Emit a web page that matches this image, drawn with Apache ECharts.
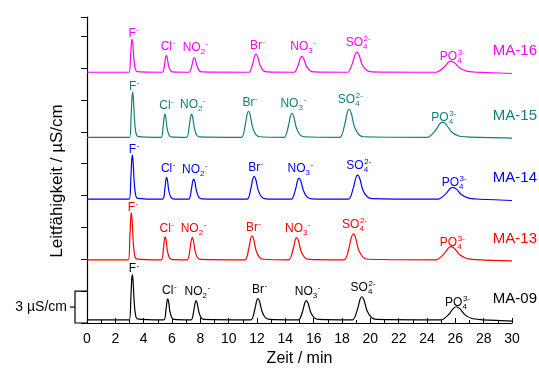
<!DOCTYPE html>
<html><head><meta charset="utf-8">
<script src="https://cdn.jsdelivr.net/npm/echarts@6/dist/echarts.min.js"></script>
<style>html,body{margin:0;padding:0;background:#fff}#c{width:539px;height:374px}</style>
</head><body><div id="c"></div>
<script>
// ---- data ----
const sampleNames = ['MA-09', 'MA-13', 'MA-14', 'MA-15', 'MA-16'];
const sampleColors = ['#000000', '#FF0000', '#0000FF', '#10807A', '#FF00FF'];
const baselines = [0.3, 5.95, 11.65, 17.48, 23.6]; // vertical offsets of traces (µS/cm)
const ions = ['F', 'Cl', 'NO2', 'Br', 'NO3', 'SO4', 'PO4'];
const xTicks = [0, 2, 4, 6, 8, 10, 12, 14, 16, 18, 20, 22, 24, 26, 28, 30];

// [time (min), signal above trace baseline (µS/cm)]
const ma09 = [[0,0],
 [2.98,0],[3.09,1.91],[3.155,3.74],[3.2,4.25],[3.255,3.61],[3.33,1.7],[3.43,0.43],[3.56,0.09],
 [5.42,0],[5.57,0.89],[5.645,1.74],[5.7,1.98],[5.765,1.68],[5.85,0.79],[5.99,0.2],[6.14,0.04],
 [7.35,0],[7.53,0.81],[7.63,1.58],[7.7,1.8],[7.785,1.53],[7.9,0.72],[8.06,0.18],[8.26,0.04],
 [11.57,0],[11.83,0.9],[11.97,1.76],[12.07,2.0],[12.19,1.7],[12.35,0.8],[12.59,0.2],[12.87,0.04],
 [14.93,0],[15.22,0.81],[15.37,1.58],[15.48,1.8],[15.61,1.53],[15.79,0.72],[16.05,0.18],[16.36,0.04],
 [18.75,0],[19.09,0.98],[19.27,1.91],[19.4,2.17],[19.56,1.84],[19.76,0.87],[20.08,0.22],[20.44,0.04],
 [25.02,0],[25.57,0.55],[25.86,1.08],[26.07,1.23],[26.32,1.05],[26.66,0.49],[27.17,0.12],[27.77,0.02],
 [30,-0.12]];
const ma13 = [[0,0],
 [2.91,0],[3.02,1.99],[3.085,3.9],[3.13,4.43],[3.185,3.77],[3.26,1.77],[3.36,0.44],[3.49,0.09],
 [5.24,0],[5.39,0.98],[5.465,1.91],[5.52,2.17],[5.585,1.84],[5.67,0.87],[5.81,0.22],[5.96,0.04],
 [7.08,0],[7.26,0.94],[7.36,1.83],[7.43,2.08],[7.515,1.77],[7.63,0.83],[7.79,0.21],[7.99,0.04],
 [11.15,0],[11.41,1.02],[11.55,1.99],[11.65,2.26],[11.77,1.92],[11.93,0.9],[12.17,0.23],[12.45,0.05],
 [14.25,0],[14.54,0.94],[14.69,1.83],[14.8,2.08],[14.93,1.77],[15.11,0.83],[15.37,0.21],[15.68,0.04],
 [18.15,0],[18.49,1.1],[18.67,2.16],[18.8,2.45],[18.96,2.08],[19.16,0.98],[19.48,0.25],[19.84,0.05],
 [24.65,0],[25.2,0.55],[25.49,1.08],[25.7,1.23],[25.95,1.05],[26.29,0.49],[26.8,0.12],[27.4,0.02],
 [30,-0.1]];
const ma14 = [[0,0],
 [2.98,0],[3.09,1.87],[3.155,3.65],[3.2,4.15],[3.255,3.53],[3.33,1.66],[3.43,0.42],[3.56,0.08],
 [5.34,0],[5.49,0.92],[5.565,1.8],[5.62,2.05],[5.685,1.74],[5.77,0.82],[5.91,0.21],[6.06,0.04],
 [7.18,0],[7.36,0.86],[7.46,1.67],[7.53,1.9],[7.615,1.62],[7.73,0.76],[7.89,0.19],[8.09,0.04],
 [11.3,0],[11.56,0.97],[11.7,1.89],[11.8,2.15],[11.92,1.83],[12.08,0.86],[12.32,0.22],[12.6,0.04],
 [14.42,0],[14.71,0.89],[14.86,1.74],[14.97,1.98],[15.1,1.68],[15.28,0.79],[15.54,0.2],[15.85,0.04],
 [18.45,0],[18.79,1.02],[18.97,1.99],[19.1,2.26],[19.26,1.92],[19.46,0.9],[19.78,0.23],[20.14,0.05],
 [24.78,0],[25.33,0.5],[25.62,0.99],[25.83,1.12],[26.08,0.95],[26.42,0.45],[26.93,0.11],[27.53,0.02],
 [30,-0.12]];
const ma15 = [[0,0],
 [3.0,0],[3.11,1.91],[3.175,3.74],[3.22,4.25],[3.275,3.61],[3.35,1.7],[3.45,0.43],[3.58,0.09],
 [5.22,0],[5.37,0.98],[5.445,1.91],[5.5,2.17],[5.565,1.84],[5.65,0.87],[5.79,0.22],[5.94,0.04],
 [7.03,0],[7.21,0.98],[7.31,1.91],[7.38,2.17],[7.465,1.84],[7.58,0.87],[7.74,0.22],[7.94,0.04],
 [10.9,0],[11.16,1.1],[11.3,2.16],[11.4,2.45],[11.52,2.08],[11.68,0.98],[11.92,0.25],[12.2,0.05],
 [13.92,0],[14.21,1.02],[14.36,1.99],[14.47,2.26],[14.6,1.92],[14.78,0.9],[15.04,0.23],[15.35,0.05],
 [17.85,0],[18.19,1.19],[18.37,2.32],[18.5,2.64],[18.66,2.24],[18.86,1.06],[19.18,0.26],[19.54,0.05],
 [24.05,0],[24.6,0.64],[24.89,1.25],[25.1,1.42],[25.35,1.21],[25.69,0.57],[26.2,0.14],[26.8,0.03],
 [30,-0.08]];
const ma16 = [[0,0],
 [2.96,0],[3.07,1.4],[3.135,2.73],[3.18,3.1],[3.235,2.64],[3.31,1.24],[3.41,0.31],[3.54,0.06],
 [5.32,0],[5.47,0.72],[5.545,1.41],[5.6,1.6],[5.665,1.36],[5.75,0.64],[5.89,0.16],[6.04,0.03],
 [7.22,0],[7.4,0.63],[7.5,1.22],[7.57,1.39],[7.655,1.18],[7.77,0.56],[7.93,0.14],[8.13,0.03],
 [11.43,0],[11.69,0.77],[11.83,1.5],[11.93,1.7],[12.05,1.45],[12.21,0.68],[12.45,0.17],[12.73,0.03],
 [14.62,0],[14.91,0.68],[15.06,1.32],[15.17,1.5],[15.3,1.28],[15.48,0.6],[15.74,0.15],[16.05,0.03],
 [18.4,0],[18.74,0.85],[18.92,1.66],[19.05,1.89],[19.21,1.61],[19.41,0.76],[19.73,0.19],[20.09,0.04],
 [24.65,0],[25.2,0.47],[25.49,0.92],[25.7,1.04],[25.95,0.88],[26.29,0.42],[26.8,0.1],[27.4,0.02],
 [30,-0.12]];
const traces = [ma09, ma13, ma14, ma15, ma16];
const scaleBarValue = 3; // µS/cm

// ---- chart ----
const FONT = '"Liberation Sans", Arial, sans-serif';
const chart = echarts.init(document.getElementById('c'), null, {renderer: 'canvas'});
const series = traces.map((tr, i) => ({
  type: 'line', name: sampleNames[i], showSymbol: false, symbol: 'none',
  smooth: 0.25, animation: false,
  lineStyle: {color: sampleColors[i], width: 1.2},
  data: tr.map(p => [p[0], p[1] + baselines[i]])
}));

chart.setOption({
  animation: false,
  grid: {left: 87, right: 27, top: 17, bottom: 51},
  xAxis: {
    type: 'value', min: 0, max: 30, interval: 2,
    name: 'Zeit / min', nameLocation: 'middle', nameGap: 25,
    nameTextStyle: {fontFamily: FONT, fontSize: 16, color: '#000'},
    axisLine: {show: true, lineStyle: {color: '#000', width: 1.2}},
    axisTick: {show: true, inside: true, length: 5, lineStyle: {color: '#000'}},
    minorTick: {show: true, splitNumber: 2, length: 3, lineStyle: {color: '#000'}},
    axisLabel: {fontFamily: FONT, fontSize: 14, color: '#000', margin: 9,
      formatter: v => xTicks.includes(v) ? String(v) : ''},
    splitLine: {show: false}
  },
  yAxis: {
    type: 'value', min: 0, max: 28.8, interval: 3,
    axisLine: {show: true, lineStyle: {color: '#000', width: 1.2}},
    axisTick: {show: true, inside: false, length: 6, lineStyle: {color: '#000'}},
    axisLabel: {show: false},
    splitLine: {show: false}
  },
  series: series
});

// ---- annotations ----
const ctx = document.createElement('canvas').getContext('2d');
function tw(text, size) { ctx.font = size + 'px ' + FONT; return ctx.measureText(text).width; }
const MAIN = 12, SMALL = 8;
const labelDefs = {
  F:   {main: 'F',  sub: '',  sup: '-',  stacked: false, gap: 2, mono: true},
  Cl:  {main: 'Cl', sub: '',  sup: '-',  stacked: false, gap: 5, mono: true},
  NO2: {main: 'NO', sub: '2', sup: '-',  stacked: false, gap: 6, mono: false},
  Br:  {main: 'Br', sub: '',  sup: '-',  stacked: false, gap: 5, mono: true},
  NO3: {main: 'NO', sub: '3', sup: '-',  stacked: false, gap: 6, mono: false},
  SO4: {main: 'SO', sub: '4', sup: '2-', stacked: true,  gap: 6, mono: false},
  PO4: {main: 'PO', sub: '4', sup: '3-', stacked: true,  gap: 1, mono: false}
};
function pix(t, y) { return chart.convertToPixel({gridIndex: 0}, [t, y]); }

const elements = [];
traces.forEach((tr, i) => {
  const color = sampleColors[i];
  const apexes = [];
  for (let k = 1; k < tr.length - 1; k++) {
    if (tr[k][1] > tr[k-1][1] && tr[k][1] > tr[k+1][1]) apexes.push(tr[k]);
  }
  apexes.forEach((a, j) => {
    const d = labelDefs[ions[j]];
    const p = pix(a[0], a[1] + baselines[i]);
    const wm = tw(d.main, MAIN), ws = d.sub ? tw(d.sub, SMALL) : 0, wp = tw(d.sup, SMALL);
    const suffixW = d.stacked ? Math.max(ws, wp) : ws + wp;
    const x0 = d.mono ? p[0] - wm / 2 : p[0] - (wm + suffixW) / 2 + 1;
    const base = p[1] - d.gap; // baseline of main text
    // text box bottom lies ~descent below the baseline
    const st = (txt, x, yBase, size) => ({type: 'text', x: x, y: yBase + size * 0.21, silent: true,
      style: {text: txt, fill: color, font: size + 'px ' + FONT, textAlign: 'left', textVerticalAlign: 'bottom', verticalAlign: 'bottom'}});
    elements.push(st(d.main, x0, base, MAIN));
    if (d.sub) elements.push(st(d.sub, x0 + wm, base + 3, SMALL));
    const supX = d.stacked ? x0 + wm : x0 + wm + ws;
    elements.push(st(d.sup, supX + 0.5, base - 5, SMALL));
  });
  const lp = pix(30, baselines[i] + 2.0);
  elements.push({type: 'text', x: 537, y: lp[1], silent: true,
    style: {text: sampleNames[i], fill: color, font: '15px ' + FONT, textAlign: 'right', textVerticalAlign: 'middle', verticalAlign: 'middle'}});
});

// y-axis title
const yc = pix(0, 14.4);
elements.push({type: 'text', x: 57, y: yc[1] + 11, rotation: Math.PI / 2, silent: true,
  style: {text: 'Leitfähigkeit / µS/cm', fill: '#000', font: '17px ' + FONT, textAlign: 'center', textVerticalAlign: 'middle', verticalAlign: 'middle'}});

// scale bar
const s0 = pix(0, 0), s1 = pix(0, scaleBarValue);
const bx = 75, ax = s0[0];
const lineStyle = {stroke: '#000', lineWidth: 1.2};
elements.push({type: 'polyline', silent: true, shape: {points: [[ax, s1[1]], [bx, s1[1]], [bx, s0[1]], [ax, s0[1]]]}, style: lineStyle});
const mid = (s0[1] + s1[1]) / 2;
elements.push({type: 'line', silent: true, shape: {x1: bx, y1: mid, x2: bx - 5, y2: mid}, style: lineStyle});
elements.push({type: 'text', x: 67, y: mid, silent: true,
  style: {text: scaleBarValue + ' µS/cm', fill: '#000', font: '14px ' + FONT, textAlign: 'right', textVerticalAlign: 'middle', verticalAlign: 'middle'}});

chart.setOption({graphic: {elements: elements}});
</script></body></html>
